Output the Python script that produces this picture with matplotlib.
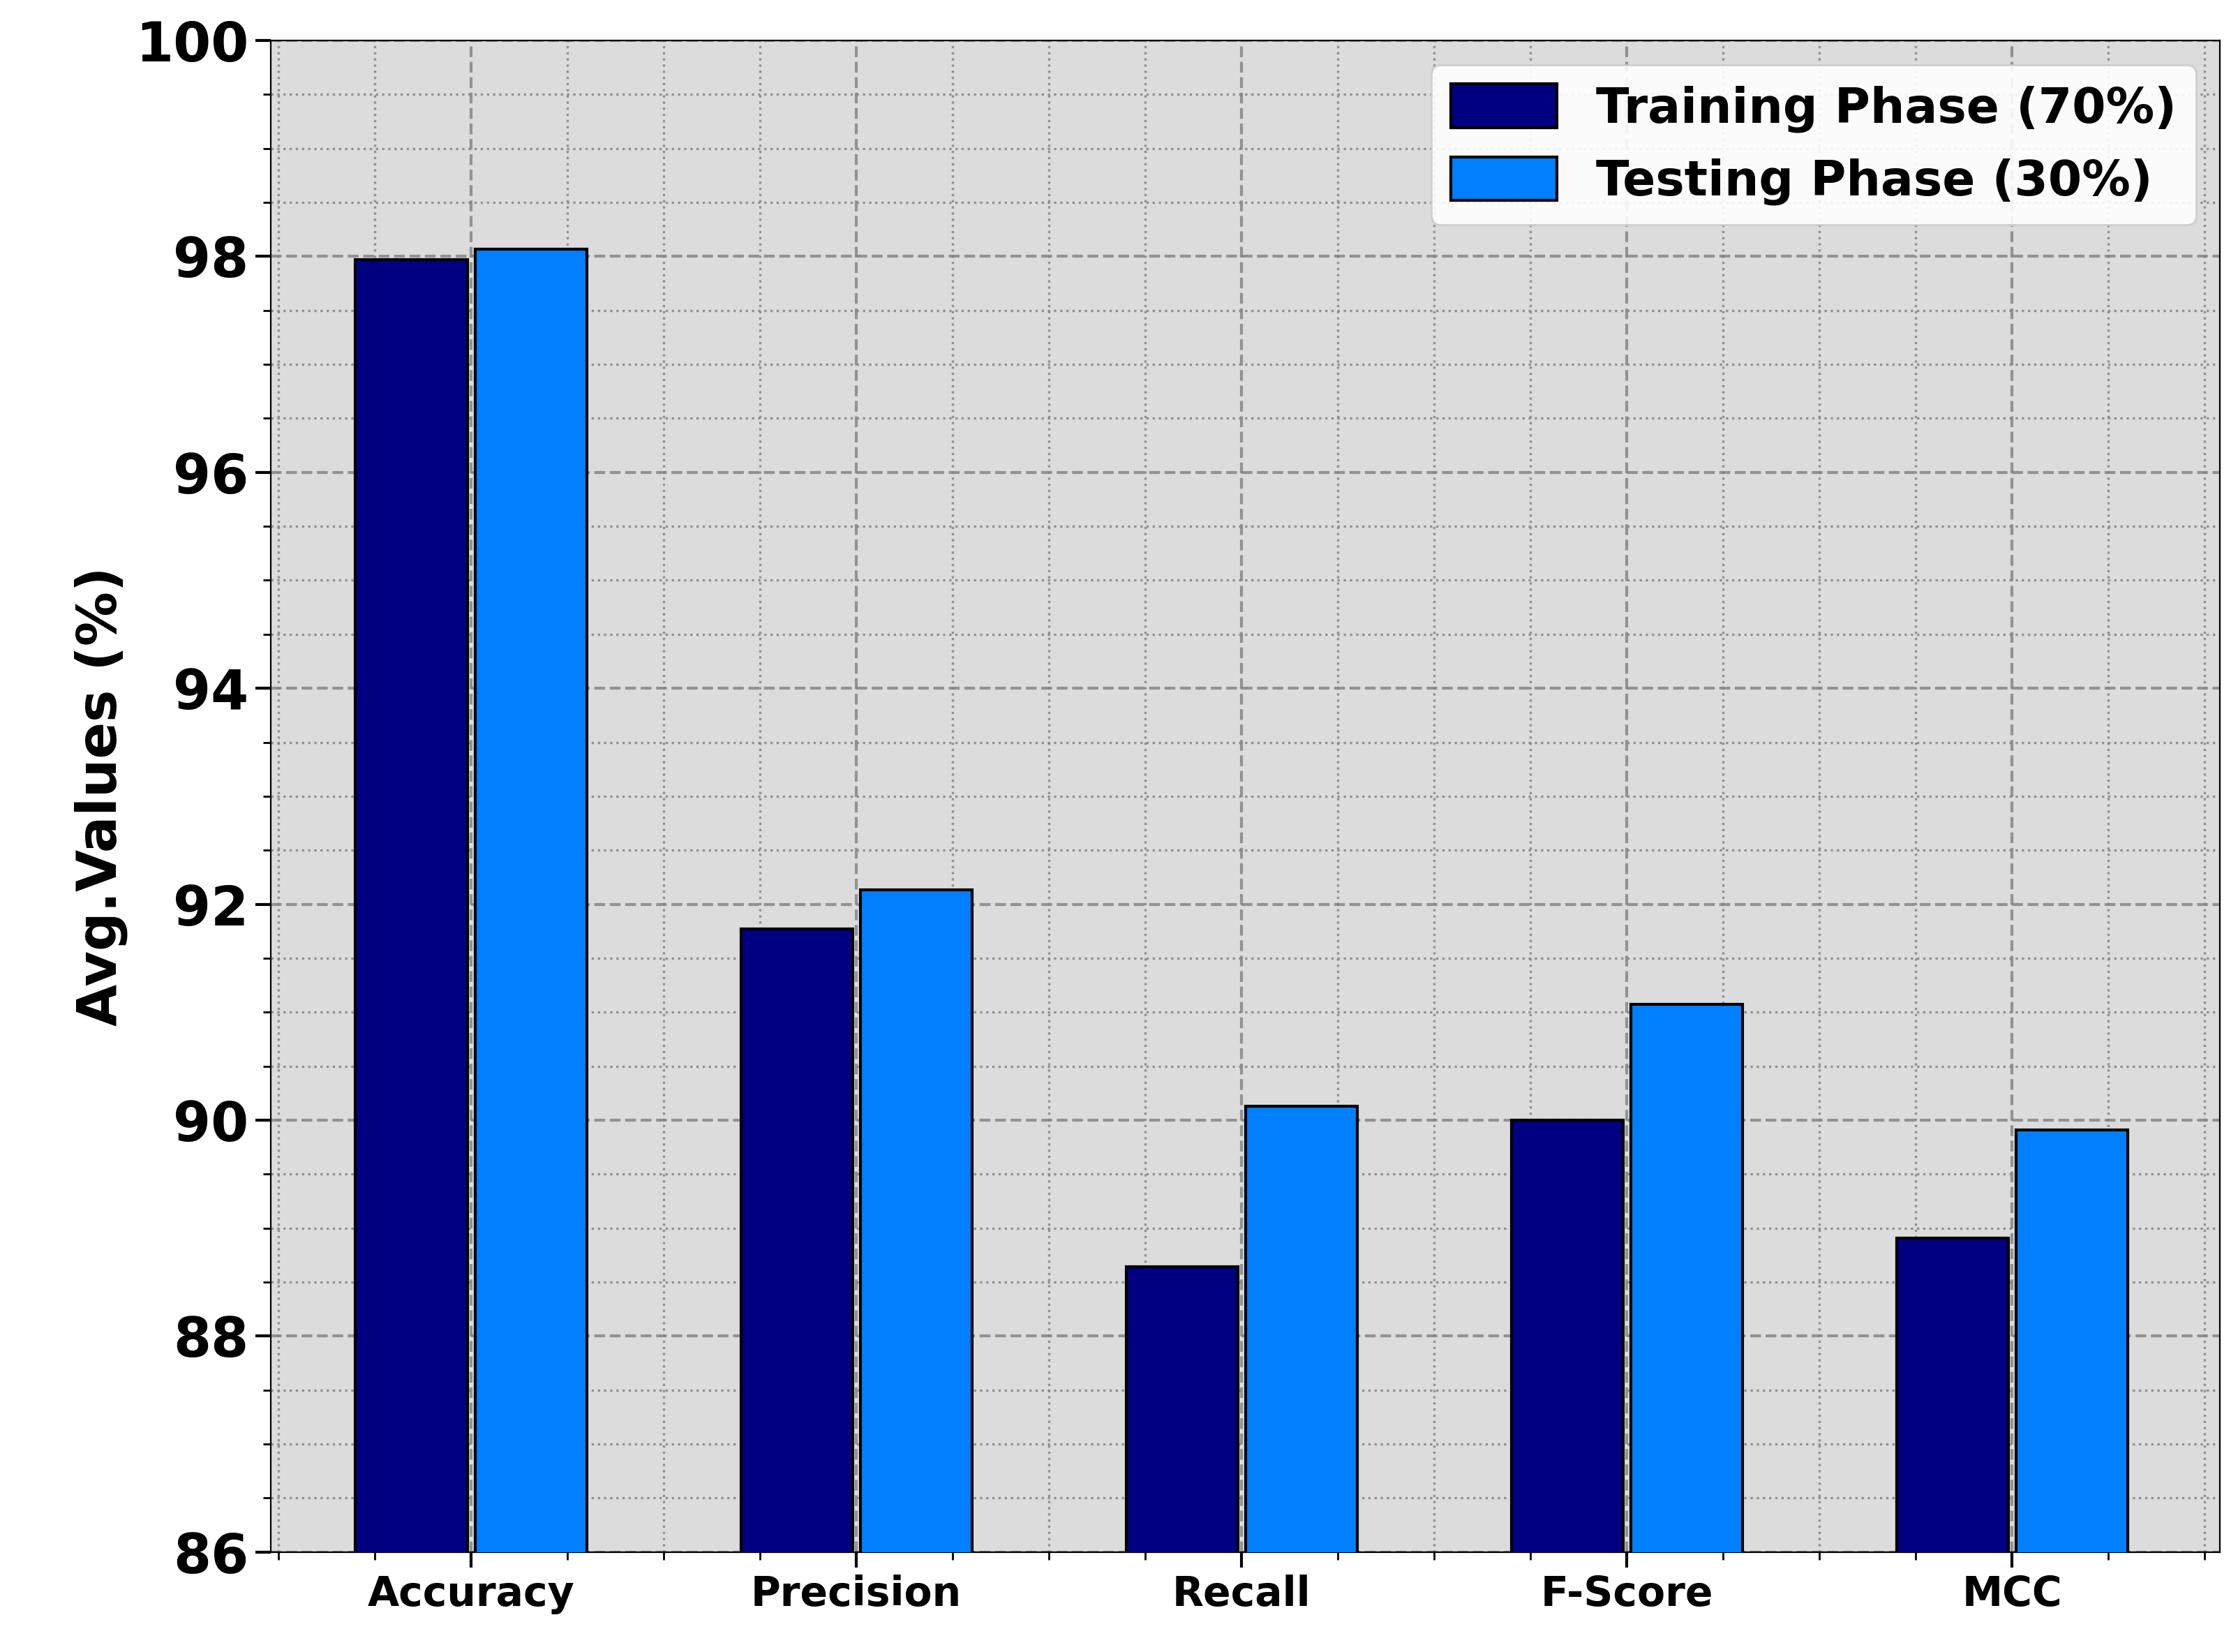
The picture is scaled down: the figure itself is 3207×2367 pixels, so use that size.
import numpy as np
import matplotlib
matplotlib.use("Agg")
import matplotlib.pyplot as plt
from matplotlib.ticker import MultipleLocator

categories = ["Accuracy", "Precision", "Recall", "F-Score", "MCC"]
training = [97.97, 91.77, 88.64, 90.00, 88.91]
testing = [98.07, 92.13, 90.13, 91.07, 89.91]

plt.rcParams['font.family'] = ['DejaVu Sans']
plt.rcParams['font.weight'] = 'bold'

fig = plt.figure(figsize=(16.035, 11.835), dpi=200)
ax = fig.add_axes([0.121, 0.0605, 0.871, 0.915])
ax.set_facecolor('#dcdcdc')

x = np.arange(len(categories))
w = 0.29
ax.bar(x - 0.155, training, w, color='#000080', edgecolor='black', linewidth=1.5,
       label='Training Phase (70%)', zorder=3)
ax.bar(x + 0.155, testing, w, color='#0080ff', edgecolor='black', linewidth=1.5,
       label='Testing Phase (30%)', zorder=3)

ax.set_ylim(86, 100)
ax.set_xlim(-0.52, 4.54)
ax.yaxis.set_major_locator(MultipleLocator(2))
ax.yaxis.set_minor_locator(MultipleLocator(0.5))
ax.xaxis.set_minor_locator(MultipleLocator(0.25))
ax.set_xticks(x)
ax.set_xticklabels(categories, fontsize=21, fontweight='bold')
for lab in ax.get_yticklabels():
    lab.set_fontsize(28)
    lab.set_fontweight('bold')
ax.tick_params(axis='both', which='major', length=8, width=1.5)
ax.tick_params(axis='both', which='minor', length=4, width=1)

ax.grid(which='major', linestyle='--', color='gray', linewidth=1.5, alpha=0.8, zorder=0)
ax.grid(which='minor', linestyle=':', color='gray', linewidth=1.2, alpha=0.8, zorder=0)
ax.set_axisbelow(True)

ax.set_ylabel('Avg.Values (%)', fontsize=28, fontweight='bold')

ax.legend(loc='upper right', prop={'size': 25, 'weight': 'bold'}, framealpha=0.9,
          handlelength=2.2, handleheight=1.0)

fig.savefig('out.png', dpi=200)
